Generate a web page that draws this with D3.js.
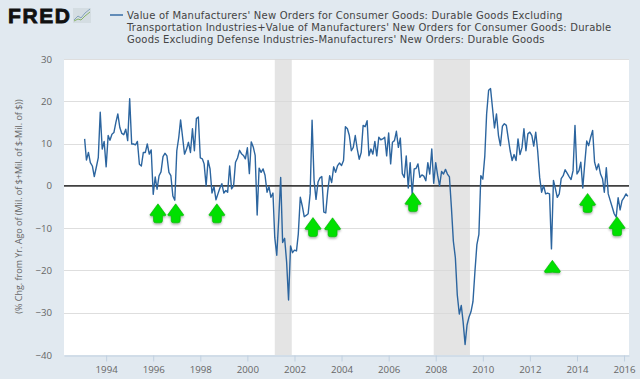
<!DOCTYPE html>
<html>
<head>
<meta charset="utf-8">
<script src="https://d3js.org/d3.v7.min.js"></script>
<style>
  html, body { margin: 0; padding: 0; background: #e1e9f0; }
  svg { display: block; }
</style>
</head>
<body>
<script>
w = 640;
h = 379;

titleLines = [
  "Value of Manufacturers' New Orders for Consumer Goods: Durable Goods Excluding",
  "Transportation Industries+Value of Manufacturers' New Orders for Consumer Goods: Durable",
  "Goods Excluding Defense Industries-Manufacturers' New Orders: Durable Goods"
];
yLabel = "(% Chg. from Yr. Ago of (Mil. of $+Mil. of $-Mil. of $))";

yTicks = [-40, -30, -20, -10, 0, 10, 20, 30];
xTickYears = [1994, 1996, 1998, 2000, 2002, 2004, 2006, 2008, 2010, 2012, 2014, 2016];

// monthly, first value is Feb 1993
startDate = [1993, 1];
values = [
  11.1, 6.1, 7.9, 5.5, 4.7, 2.2, 4.4, 6.7, 17.4, 8.7, 10.5,
  4.5, 11.9, 10.8, 12.2, 12.6, 15, 17, 13.8, 12.4, 12.1, 13.4, 10.7,
  20.6, 9.9, 9.9, 9.7, 10.5, 5.1, 4.7, 7.9, 7.9, 9.9, 7.5, 8.5,
  -2, 2.1, -0.8, 2.4, 3.3, 6.9, 7.7, 7.1, 3.2, 2.4, -2.4, -3.4,
  8.3, 11.5, 15.6, 11.5, 7.5, 8.7, 10.3, 7.9, 13.5, 8.3, 15.9, 16.3,
  6.6, 6.4, 5.2, 0, 6, 4, -1.7, -0.2, -3.3, -1.9, -0.5, 0.5,
  -1.7, -1.1, -1.5, 4.7, -0.7, 0, 5.6, 6.6, 8.4, 7.6, 7.2, 6.4,
  9, 2.9, 10.4, 9.2, 7.2, -6.9, 4.2, 3.2, 4, 2.5, -1.5, -0.2,
  -2.7, -1.7, -12.2, -16.4, -8, 2, -13.4, -12.4, -18, -27, -14.2, -15.8,
  -15.2, -15.4, -11.4, -2.7, -4.7, -7.3, -7, -6.6, -1.9, 15.5, 1.3, -3.2,
  0.9, 1.9, 2.2, -6.2, -6.4, -1.2, 2.4, 0.8, 4.5, 3.2, 4.8, 5.4,
  4.8, 6, 14, 13.5, 11.9, 8.3, 9.1, 11.9, 8.7, 6.3, 7.9, 14.3,
  14, 15.4, 7.1, 8.7, 7.5, 10.5, 7.1, 11.5, 10.9, 11.1, 11.5, 7.1,
  12.5, 5.2, 10.3, 10.7, 12.9, 9.1, 11.3, 2.9, 2, 7.1, -0.5, 5.5,
  -2, 4, 4.1, 5.2, 2, 2.6, 2.3, 1.2, 5.5, 2.8, 8.7, 0.6,
  5.5, 2.4, 0, 3.4, 2.8, 3.9, 2.8, 2.1, -5.2, -13.1, -17, -25.8,
  -30.3, -28.3, -32.1, -37.5, -32.9, -31, -29.8, -27.4, -20.2, -13.9, -11.5, 2.4,
  1.6, 7.1, 17, 22.6, 23, 18.3, 13.7, 17, 11.9, 9.5, 14.1, 14.7,
  14.3, 11.1, 8.3, 6, 7.4, 6, 11.1, 7.4, 9.1, 13.5, 8.3, 12.3,
  12.7, 11.9, 9.4, 12.7, 8.3, 2, -1.5, 0.1, -1.9, -1.7, -1.9, -14.9,
  1.3, -0.7, -2.7, -1.9, 1.7, 2.4, 3.8, 3, 2.2, 1.5, 3.6, 14.3,
  2.8, 3.6, 5.6, -0.5, 5.2, 10.6, 9.5, 11.5, 13.1, 5.6, 3.8, 5.2,
  2.8, 1.7, -1.5, 4.3, -1.9, -3.5, -5, -6.6, -7.4, -2.8, -5.7, -3.5,
  -2.8, -1.9, -2.5
];

recessionStarts = [new Date(2001, 2, 1), new Date(2007, 11, 1)];
recessionEnds = [new Date(2001, 10, 20), new Date(2009, 5, 15)];

// green markers pasted on top of the chart
arrowDates = [[1996, 2], [1996, 11], [1998, 8], [2002, 9], [2003, 7], [2007, 0], [2012, 11], [2014, 5], [2015, 8]];
arrowTips = [-4.25, -4.25, -4.25, -7.5, -7.55, -1.6, -17.6, -1.8, -7.3];
arrowShafts = [true, true, true, true, true, true, false, true, true];

series = values.map((v, i) => ({ date: new Date(startDate[0], startDate[1] + i, 1), value: v }));

let xScale = d3.scaleTime()
  .domain([new Date(1992, 2, 18), new Date(2016, 2, 18)])
  .range([64, 629]);
let yScale = d3.scaleLinear()
  .domain([-40, 30])
  .range([355, 59]);

svg = d3.select('body')
  .append('svg')
  .attr('width', w)
  .attr('height', h);

let defs = svg.append('defs');
let shadow = defs.append('filter')
  .attr('id', 'arrowShadow')
  .attr('x', '-30%').attr('y', '-30%')
  .attr('width', '160%').attr('height', '160%');
shadow.append('feDropShadow')
  .attr('dx', 0).attr('dy', 1.5)
  .attr('stdDeviation', 1.2)
  .attr('flood-color', '#000')
  .attr('flood-opacity', 0.35);

svg.append('rect')
  .attr('width', w)
  .attr('height', h)
  .attr('fill', '#e1e9f0');

// plot area
svg.append('rect')
  .attr('x', xScale.range()[0])
  .attr('y', yScale.range()[1])
  .attr('width', xScale.range()[1] - xScale.range()[0])
  .attr('height', yScale.range()[0] - yScale.range()[1])
  .attr('fill', '#fff');

svg.selectAll('rect.recession')
  .data(recessionStarts)
  .enter()
  .append('rect')
  .classed('recession', true)
  .attr('x', d => xScale(d))
  .attr('y', yScale.range()[1])
  .attr('width', (d, i) => xScale(recessionEnds[i]) - xScale(d))
  .attr('height', yScale.range()[0] - yScale.range()[1])
  .attr('fill', '#e4e4e4');

let yAxis = d3.axisLeft()
  .scale(yScale)
  .tickValues(yTicks)
  .tickSize(0)
  .tickPadding(12);

let yG = svg.append('g')
  .attr('transform', 'translate(64, 0)')
  .call(yAxis);
yG.select('.domain').remove();
yG.selectAll('text')
  .attr('font-family', '"Open Sans"')
  .attr('font-size', 9.7)
  .attr('fill', '#666');

svg.append('g')
  .selectAll('line')
  .data(yTicks.filter(d => d !== -40))
  .enter()
  .append('line')
  .attr('x1', xScale.range()[0])
  .attr('x2', xScale.range()[1])
  .attr('y1', d => Math.round(yScale(d)) + 0.5)
  .attr('y2', d => Math.round(yScale(d)) + 0.5)
  .attr('stroke', '#d8d8d8')
  .attr('stroke-opacity', 0.85);

let xAxis = d3.axisBottom()
  .scale(xScale)
  .tickValues(xTickYears.map(y => new Date(y, 0, 1)))
  .tickFormat(d3.timeFormat('%Y'))
  .tickSize(6)
  .tickSizeOuter(0)
  .tickPadding(5);

let xG = svg.append('g')
  .attr('transform', 'translate(0, 355.5)')
  .call(xAxis);
xG.select('.domain').attr('stroke', '#c0d0e0');
xG.selectAll('line').attr('stroke', '#c0d0e0');
xG.selectAll('text')
  .attr('font-family', '"Open Sans"')
  .attr('font-size', 9.7)
  .attr('fill', '#666');

// the zero line
svg.append('line')
  .attr('x1', xScale.range()[0])
  .attr('x2', xScale.range()[1])
  .attr('y1', yScale(0))
  .attr('y2', yScale(0))
  .attr('stroke', '#000')
  .attr('stroke-width', 1.4);

let line = d3.line()
  .x(d => xScale(d.date))
  .y(d => yScale(d.value));

svg.append('path')
  .datum(series)
  .attr('d', line)
  .attr('fill', 'none')
  .attr('stroke', '#2c659f')
  .attr('stroke-width', 1.4)
  .attr('stroke-linejoin', 'round');

// arrow outline, tip at 0,0
arrowPath = 'M0,0 L8,11 Q8,12 6.5,12 L4.5,12 L4.5,17 Q4.5,19 2,19 L-2,19 Q-4.5,19 -4.5,17 L-4.5,12 L-6.5,12 Q-8,12 -8,11 Z';
headPath = 'M0,0 L8,11 Q8,12.5 6,12.5 Q0,11.5 -6,12.5 Q-8,12.5 -8,11 Z';

svg.selectAll('path.arrow')
  .data(arrowDates)
  .enter()
  .append('path')
  .classed('arrow', true)
  .attr('transform', (d, i) => `translate(${xScale(new Date(d[0], d[1], 15))}, ${yScale(arrowTips[i])})`)
  .attr('d', (d, i) => arrowShafts[i] ? arrowPath : headPath)
  .attr('fill', '#00e000')
  .attr('stroke', '#00b000')
  .attr('stroke-width', 0.6)
  .attr('filter', 'url(#arrowShadow)');

// y label
svg.append('text')
  .attr('transform', 'translate(22, 206.5) rotate(-90)')
  .attr('text-anchor', 'middle')
  .attr('font-family', '"Open Sans"')
  .attr('font-size', 9)
  .attr('fill', '#666')
  .text(yLabel);

// title
svg.append('line')
  .attr('x1', 110).attr('x2', 123)
  .attr('y1', 15).attr('y2', 15)
  .attr('stroke', '#2c659f')
  .attr('stroke-width', 1.4);

let titles = svg.selectAll('text.title')
  .data(titleLines)
  .enter()
  .append('text')
  .classed('title', true)
  .attr('x', 127)
  .attr('y', (d, i) => 18.5 + i * 12)
  .attr('font-family', '"DejaVu Sans"')
  .attr('font-size', 10)
  .attr('fill', '#444')
  .text(d => d);

// spread the letters so the first line runs out to x=562
let firstLen = titles.nodes()[0].getComputedTextLength();
titles.attr('letter-spacing', (435.5 - firstLen) / titleLines[0].length);

// FRED logo
svg.append('text')
  .attr('x', 8)
  .attr('y', 23)
  .attr('font-family', '"Liberation Sans"')
  .attr('font-weight', 'bold')
  .attr('font-size', 21)
  .attr('textLength', 62)
  .attr('lengthAdjust', 'spacing')
  .attr('stroke', '#111')
  .attr('stroke-width', 0.8)
  .attr('fill', '#111')
  .text('FRED');

svg.append('rect')
  .attr('x', 73).attr('y', 8)
  .attr('width', 18).attr('height', 15)
  .attr('fill', '#d4dde2');
svg.append('polyline')
  .attr('points', '74,20 78,16 81,18 85,13 90,9')
  .attr('fill', 'none')
  .attr('stroke', '#7a9bb5')
  .attr('stroke-width', 0.9);
svg.append('polyline')
  .attr('points', '74,21 78,19 81,20 85,16 90,12')
  .attr('fill', 'none')
  .attr('stroke', '#7fae5a')
  .attr('stroke-width', 0.9);
</script>
</body>
</html>
